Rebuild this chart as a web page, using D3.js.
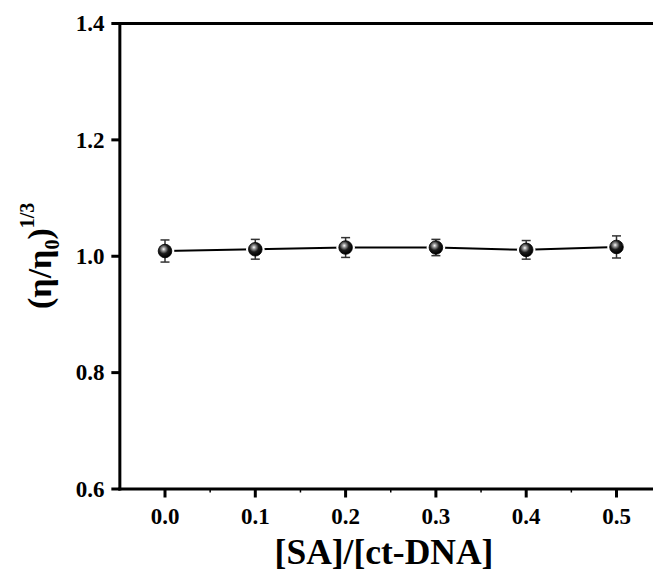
<!DOCTYPE html>
<html><head><meta charset="utf-8">
<script src="https://d3js.org/d3.v7.min.js"></script>
<style>body{margin:0;background:#fff}svg{display:block}</style>
</head><body>
<script>
const ratios = [0.0, 0.1, 0.2, 0.3, 0.4, 0.5];
const viscosity = [1.009, 1.012, 1.015, 1.015, 1.011, 1.016];
const errors = [0.019, 0.017, 0.017, 0.014, 0.016, 0.019];
const xTicks = [0.0, 0.1, 0.2, 0.3, 0.4, 0.5];
const xMinor = [0.05, 0.15, 0.25, 0.35, 0.45, 0.55];
const yTicks = [0.6, 0.8, 1.0, 1.2, 1.4];

const W = 653, H = 570;
const svg = d3.select("body").append("svg").attr("width", W).attr("height", H);
const font = "'Liberation Serif','Times New Roman',serif";

const x = d3.scaleLinear().domain([0, 0.5]).range([165, 616.5]);
const y = d3.scaleLinear().domain([0.6, 1.4]).range([489, 23.5]);
const x0 = x(-0.05), xEnd = 660;

const defs = svg.append("defs");
const g = defs.append("radialGradient").attr("id", "ball").attr("cx", "40%").attr("cy", "36%").attr("r", "62%");
g.append("stop").attr("offset", "0%").attr("stop-color", "#ffffff");
g.append("stop").attr("offset", "20%").attr("stop-color", "#a0a0a0");
g.append("stop").attr("offset", "55%").attr("stop-color", "#1c1c1c");
g.append("stop").attr("offset", "100%").attr("stop-color", "#000000");

// axes lines
svg.append("line").attr("x1", x0).attr("x2", x0).attr("y1", y(1.4) - 1.5).attr("y2", y(0.6) + 1.5)
  .attr("stroke", "#000").attr("stroke-width", 3);
svg.append("line").attr("x1", x0 - 1.5).attr("x2", xEnd).attr("y1", y(1.4)).attr("y2", y(1.4))
  .attr("stroke", "#000").attr("stroke-width", 3);
svg.append("line").attr("x1", x0 - 1.5).attr("x2", xEnd).attr("y1", y(0.6)).attr("y2", y(0.6))
  .attr("stroke", "#000").attr("stroke-width", 3);

// y ticks
const yAxis = svg.append("g");
yTicks.forEach(t => {
  yAxis.append("line").attr("x1", x0 - 8.5).attr("x2", x0).attr("y1", y(t)).attr("y2", y(t))
    .attr("stroke", "#000").attr("stroke-width", 3);
  yAxis.append("text").attr("x", 104.5).attr("y", y(t)).attr("dy", "0.34em")
    .attr("text-anchor", "end").attr("font-family", font).attr("font-weight", "bold")
    .attr("font-size", 23).text(d3.format(".1f")(t));
});

// x ticks
const xAxis = svg.append("g");
xTicks.forEach(t => {
  xAxis.append("line").attr("x1", x(t)).attr("x2", x(t)).attr("y1", y(0.6)).attr("y2", y(0.6) + 8.5)
    .attr("stroke", "#000").attr("stroke-width", 3);
  xAxis.append("text").attr("x", x(t)).attr("y", 524)
    .attr("text-anchor", "middle").attr("font-family", font).attr("font-weight", "bold")
    .attr("font-size", 23).text(d3.format(".1f")(t));
});
xMinor.forEach(t => {
  if (x(t) < W) xAxis.append("line").attr("x1", x(t)).attr("x2", x(t))
    .attr("y1", y(0.6)).attr("y2", y(0.6) + 3.5).attr("stroke", "#000").attr("stroke-width", 1.5);
});

// data line
const pts = ratios.map((r, i) => ({x: r, y: viscosity[i], e: errors[i]}));
svg.append("path").datum(pts)
  .attr("d", d3.line().x(d => x(d.x)).y(d => y(d.y)))
  .attr("fill", "none").attr("stroke", "#000").attr("stroke-width", 2);

// white gaps around markers
svg.selectAll(".gap").data(pts).enter().append("circle")
  .attr("cx", d => x(d.x)).attr("cy", d => y(d.y)).attr("r", 9.3).attr("fill", "#fff");

// error bars
const eb = svg.append("g").attr("stroke", "#333").attr("stroke-width", 1.5);
pts.forEach(d => {
  eb.append("line").attr("x1", x(d.x)).attr("x2", x(d.x)).attr("y1", y(d.y + d.e)).attr("y2", y(d.y - d.e));
  eb.append("line").attr("x1", x(d.x) - 4.5).attr("x2", x(d.x) + 4.5).attr("y1", y(d.y + d.e)).attr("y2", y(d.y + d.e));
  eb.append("line").attr("x1", x(d.x) - 4.5).attr("x2", x(d.x) + 4.5).attr("y1", y(d.y - d.e)).attr("y2", y(d.y - d.e));
});

// markers
svg.selectAll(".pt").data(pts).enter().append("circle")
  .attr("cx", d => x(d.x)).attr("cy", d => y(d.y)).attr("r", 6.8)
  .attr("fill", "url(#ball)").attr("stroke", "#000").attr("stroke-width", 0.8);

// x label
svg.append("text").attr("x", 384).attr("y", 563.5).attr("text-anchor", "middle")
  .attr("font-family", font).attr("font-weight", "bold").attr("font-size", 35.5).text("[SA]/[ct-DNA]");

// y label
const yl = svg.append("text").attr("transform", "translate(51,309) rotate(-90)")
  .attr("text-anchor", "start").attr("font-family", font).attr("font-weight", "bold").attr("font-size", 34);
yl.append("tspan").text("(η/η");
yl.append("tspan").attr("font-size", 20).attr("dy", 8).text("0");
yl.append("tspan").attr("dy", -8).text(")");
yl.append("tspan").attr("font-size", 20).attr("dy", -17).text("1/3");
</script>
</body></html>
